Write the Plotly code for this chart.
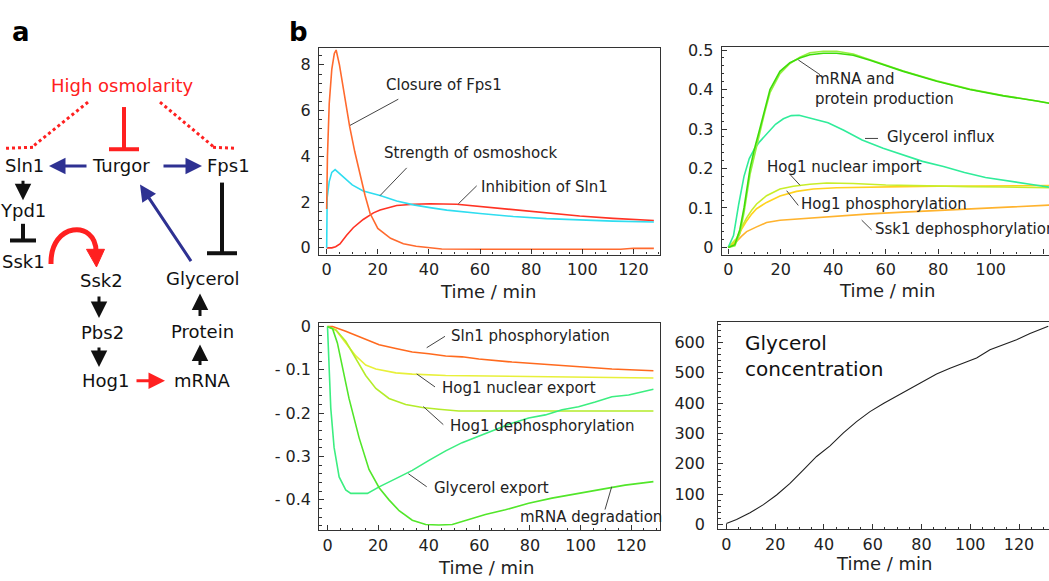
import plotly.graph_objects as go

W, H = 1049, 581
FONT = "DejaVu Sans"

# ---------------- DATA ----------------
# Panel 1 (top-left)
closure_t = [0, 0.3, 1, 2, 3, 3.7, 5, 7, 9, 11, 13, 15, 17, 20, 25, 30, 35, 40, 45, 60, 80, 100, 115, 120, 128]
closure_v = [1.7, 4.0, 6.3, 7.8, 8.5, 8.65, 8.0, 6.6, 5.3, 4.2, 3.2, 2.3, 1.5, 0.85, 0.42, 0.18, 0.07, 0.0, -0.05, -0.06, -0.06, -0.06, -0.06, -0.02, -0.02]
osmo_t = [0, 0.2, 1, 2, 3.3, 5, 7.8, 10, 14.3, 20.9, 27.4, 34, 40.4, 47, 60, 73, 86, 99, 112, 128]
osmo_v = [0, 2.2, 2.9, 3.3, 3.42, 3.25, 2.95, 2.75, 2.49, 2.29, 2.05, 1.88, 1.76, 1.65, 1.5, 1.37, 1.28, 1.21, 1.17, 1.13]
inhib_t = [0, 2, 3.5, 5.2, 7.8, 10.4, 14.3, 18.3, 20.9, 27.4, 34, 40.4, 50.9, 60, 73, 86, 99, 112, 125, 128]
inhib_v = [0, 0, 0.05, 0.17, 0.55, 0.88, 1.24, 1.53, 1.66, 1.85, 1.91, 1.93, 1.91, 1.81, 1.67, 1.53, 1.39, 1.29, 1.21, 1.2]

# Panel 2 (top-right)
mrna_prod_t = [0, 2.5, 4.4, 6, 8.3, 10, 12, 14, 15.9, 19.7, 23.5, 27.3, 31.1, 36.2, 41.3, 47.6, 54, 66.7, 79.4, 92, 104.8, 117.5, 125]
mrna_prod_v = [0, 0.007, 0.045, 0.1, 0.2, 0.25, 0.3, 0.355, 0.4, 0.446, 0.468, 0.48, 0.488, 0.492, 0.492, 0.487, 0.474, 0.446, 0.421, 0.4, 0.384, 0.371, 0.362]
prot_prod_t = [0, 2.5, 4.4, 6, 8.3, 10, 12, 14, 15.9, 19.7, 23.5, 27.3, 31.1, 36.2, 41.3, 47.6, 54, 66.7, 79.4, 92, 104.8, 117.5, 125]
prot_prod_v = [0, 0.004, 0.035, 0.088, 0.185, 0.237, 0.29, 0.345, 0.392, 0.44, 0.466, 0.482, 0.493, 0.497, 0.497, 0.49, 0.476, 0.447, 0.422, 0.401, 0.385, 0.372, 0.363]
influx_t = [0, 2, 4, 6, 8, 10, 12, 15, 18, 21, 24, 27, 32, 38, 44, 51, 59, 67, 74, 82, 90, 98, 107, 115, 125]
influx_v = [0, 0.03, 0.11, 0.18, 0.225, 0.25, 0.268, 0.29, 0.312, 0.326, 0.334, 0.335, 0.327, 0.316, 0.297, 0.272, 0.251, 0.234, 0.218, 0.205, 0.19, 0.177, 0.167, 0.16, 0.15]
import_t = [0, 3.2, 5, 7, 9, 10.8, 14.6, 19.7, 24.8, 31.1, 37.5, 47.6, 60, 73, 92, 105, 125]
import_v = [0, 0.023, 0.05, 0.075, 0.095, 0.11, 0.131, 0.148, 0.155, 0.16, 0.163, 0.162, 0.158, 0.156, 0.154, 0.153, 0.151]
phos_t = [0, 3.2, 5, 7, 9, 10.8, 14.6, 19.7, 26, 32.4, 41.3, 54, 67, 80, 92, 105, 125]
phos_v = [0, 0.019, 0.045, 0.067, 0.085, 0.098, 0.114, 0.13, 0.142, 0.148, 0.151, 0.153, 0.154, 0.155, 0.155, 0.156, 0.157]
ssk1_t = [0, 3.2, 5, 7, 10.8, 14.6, 19.7, 28.6, 41.3, 54, 66.7, 79.4, 92, 104.8, 125]
ssk1_v = [0, 0.015, 0.028, 0.04, 0.052, 0.063, 0.069, 0.073, 0.08, 0.085, 0.0895, 0.094, 0.098, 0.102, 0.108]

# Panel 3 (bottom-left)
sln1_t = [0, 2, 7.2, 13.8, 20.4, 27, 33.5, 40.1, 46.7, 53.2, 59.8, 72.9, 86.1, 99.2, 112.4, 128.8]
sln1_v = [0, 0, -0.011, -0.026, -0.042, -0.051, -0.059, -0.063, -0.068, -0.07, -0.075, -0.082, -0.087, -0.092, -0.098, -0.102]
export_t = [0, 3.3, 7.2, 11.2, 15.1, 19.1, 27, 33.5, 46.7, 59.8, 72.9, 86.1, 128.8]
export_v = [0, -0.008, -0.038, -0.068, -0.089, -0.098, -0.107, -0.110, -0.113, -0.114, -0.115, -0.117, -0.119]
dephos_t = [0, 3.3, 7.2, 11.2, 15.1, 19.1, 24.3, 30.9, 37.5, 44, 51.9, 60, 128.8]
dephos_v = [0, -0.008, -0.034, -0.075, -0.113, -0.143, -0.166, -0.18, -0.187, -0.191, -0.195, -0.195, -0.195]
gexport_t = [0, 0.7, 1.3, 2.6, 4.6, 7.2, 9.2, 15.8, 20.4, 27, 33.5, 40.1, 46.7, 53.2, 59.8, 66.4, 72.9, 79.5, 86.1, 92.7, 99.2, 105.8, 112.4, 119, 128.8]
gexport_v = [0, -0.113, -0.189, -0.279, -0.347, -0.377, -0.385, -0.385, -0.37, -0.351, -0.332, -0.309, -0.287, -0.268, -0.253, -0.238, -0.223, -0.211, -0.204, -0.192, -0.185, -0.174, -0.162, -0.158, -0.145]
mdeg_t = [0, 2, 3.9, 5.9, 8.5, 12.5, 16.4, 20.4, 24.3, 28.3, 33.5, 38.8, 44, 49.3, 55.9, 62.4, 70.3, 79.5, 88.7, 99.2, 109.8, 117.6, 128.8]
mdeg_v = [0, -0.005, -0.038, -0.091, -0.166, -0.257, -0.33, -0.372, -0.4, -0.425, -0.447, -0.457, -0.458, -0.457, -0.445, -0.434, -0.423, -0.408, -0.396, -0.385, -0.374, -0.366, -0.358]

# Panel 4 (bottom-right)
gconc_t = [0, 4.2, 9.7, 15.2, 20.6, 26.1, 31.6, 37, 42.5, 48, 53.4, 58.9, 64.4, 69.8, 75.3, 80.8, 86.2, 91.7, 97.2, 102.6, 108.1, 113.6, 119, 124.5, 132]
gconc_v = [3, 16, 38, 65, 97, 135, 180, 224, 259, 302, 339, 372, 399, 423, 447, 474, 496, 515, 531, 549, 576, 592, 609, 630, 654]

time_ticks = [0, 20, 40, 60, 80, 100, 120]
p1_yticks = [0, 2, 4, 6, 8]
p2_yticks = [0, 0.1, 0.2, 0.3, 0.4, 0.5]
p3_yticks = [0, -0.1, -0.2, -0.3, -0.4]
p3_ylabels = ["0", "- 0.1", "- 0.2", "- 0.3", "- 0.4"]
p4_yticks = [0, 100, 200, 300, 400, 500, 600]

# ---------------- helpers ----------------
def PX(x):
    return x / W

def PY(y):
    return 1 - y / H

fig = go.Figure()

def add_line(t, v, color, axis, width=1.6):
    fig.add_trace(go.Scatter(x=t, y=v, mode="lines", line=dict(color=color, width=width),
                             xaxis="x" + axis, yaxis="y" + axis, showlegend=False, hoverinfo="skip"))

# Panel 1
add_line(inhib_t, inhib_v, "#FF3324", "")
add_line(osmo_t, osmo_v, "#2FDDF0", "")
add_line(closure_t, closure_v, "#FF6A2E", "")
# Panel 2
add_line(ssk1_t, ssk1_v, "#FFB32E", "2")
add_line(phos_t, phos_v, "#FFD21E", "2")
add_line(import_t, import_v, "#C8EE2A", "2")
add_line(influx_t, influx_v, "#30EC9A", "2")
add_line(prot_prod_t, prot_prod_v, "#96F040", "2")
add_line(mrna_prod_t, mrna_prod_v, "#3EDC0A", "2")
# Panel 3
add_line(sln1_t, sln1_v, "#FF6A1E", "3")
add_line(export_t, export_v, "#E8F03A", "3")
add_line(dephos_t, dephos_v, "#B4EC2A", "3")
add_line(gexport_t, gexport_v, "#3CEE80", "3")
add_line(mdeg_t, mdeg_v, "#52E62A", "3")
# Panel 4
add_line(gconc_t, gconc_v, "#202020", "4", width=1.1)

AX = "#333333"

def xax(dom_px, rng, anchor):
    return dict(domain=[dom_px[0] / W, min(1.0, dom_px[1] / W)], range=rng, anchor=anchor,
                showline=True, linecolor=AX, linewidth=1.3, mirror=True,
                ticks="inside", ticklen=5, tickwidth=1, tickcolor=AX,
                tickvals=time_ticks, showgrid=False, zeroline=False,
                minor=dict(ticks="inside", ticklen=2.5, tickcolor=AX, dtick=5, showgrid=False),
                tickfont=dict(family=FONT, size=16, color="#222"))

def yax(dom_px, rng, anchor, vals, text=None, minor=None, mirror=True, standoff=4):
    d = dict(domain=[1 - dom_px[1] / H, 1 - dom_px[0] / H], range=rng, anchor=anchor,
             showline=True, linecolor=AX, linewidth=1.3, mirror=mirror,
             ticks="inside", ticklen=5, tickwidth=1, tickcolor=AX,
             tickvals=vals, showgrid=False, zeroline=False,
             minor=dict(ticks="inside", ticklen=2.5, tickcolor=AX, dtick=minor, showgrid=False),
             tickfont=dict(family=FONT, size=16, color="#222"), ticklabelstandoff=standoff)
    if text is not None:
        d["ticktext"] = text
    return d

fig.update_layout(
    width=W, height=H, margin=dict(l=0, r=0, t=0, b=0),
    paper_bgcolor="white", plot_bgcolor="white",
    font=dict(family=FONT, color="#222"),
    xaxis=xax([319, 660], [-3.0, 130.4], "y"),
    yaxis=yax([43, 253.3], [-0.29, 8.73], "x", p1_yticks, minor=0.4),
    xaxis2=xax([721.7, 1049], [-2.5, 122.2], "y2"),
    yaxis2=yax([41.7, 253.3], [-0.018, 0.508], "x2", p2_yticks, minor=0.02, mirror=False),
    xaxis3=xax([319.3, 660], [-3.24, 131.4], "y3"),
    yaxis3=yax([322.7, 534.3], [-0.47, 0.009], "x3", p3_yticks, p3_ylabels, minor=0.02),
    xaxis4=xax([718.3, 1049], [-3.3, 132.3], "y4"),
    yaxis4=yax([321.7, 533.3], [-16, 669], "x4", p4_yticks, minor=20, mirror=False, standoff=9),
)

annotations = []
shapes = []

def text(s, x, y, size=15, color="#222", xanchor="left", bold=False):
    annotations.append(dict(text=("<b>%s</b>" % s) if bold else s, x=PX(x), y=PY(y), xref="paper", yref="paper",
                            xanchor=xanchor, yanchor="middle", showarrow=False, align="left",
                            font=dict(family=FONT, size=size, color=color)))

def seg(x0, y0, x1, y1, color="#444", width=1, dash=None):
    ln = dict(color=color, width=width)
    if dash:
        ln["dash"] = dash
    shapes.append(dict(type="line", xref="paper", yref="paper", x0=PX(x0), y0=PY(y0), x1=PX(x1), y1=PY(y1), line=ln))

def arrow(tail, tip, color, width=3):
    annotations.append(dict(text="", x=PX(tip[0]), y=PY(tip[1]), xref="paper", yref="paper",
                            ax=tail[0] - tip[0], ay=tail[1] - tip[1], axref="pixel", ayref="pixel",
                            showarrow=True, arrowhead=2, arrowsize=1.1, arrowwidth=width, arrowcolor=color,
                            standoff=0, startstandoff=0))

# Axis titles
text("Time / min", 488, 291, size=18, xanchor="center")
text("Time / min", 887, 290, size=18, xanchor="center")
text("Time / min", 486, 572, size=18, xanchor="center")
text("Time / min", 884, 568, size=18, xanchor="center")

# Panel labels
text("a", 21, 26, size=26, color="black", xanchor="center", bold=True)
text("b", 298, 26, size=26, color="black", xanchor="center", bold=True)

# Panel 1 labels
text("Closure of Fps1", 384, 81)
text("Strength of osmoshock", 382, 150)
text("Inhibition of Sln1", 479, 184)
seg(398.3, 95, 350, 121.7)
seg(406.7, 165, 380, 193.3)
seg(476.7, 183.3, 458.3, 201.7)

# Panel 2 labels
text("mRNA and<br>protein production", 813, 85)
text("Glycerol influx", 885, 134)
text("Hog1 nuclear import", 765, 164)
text("Hog1 phosphorylation", 799, 202)
text("Ssk1 dephosphorylation", 873, 227)
seg(798.3, 55, 820, 70)
seg(865, 135, 878, 135)
seg(790, 171.7, 800, 182.7)
seg(786.7, 188.3, 798.3, 203.3)
seg(861.7, 218.3, 871.7, 228.3)

# Panel 3 labels
text("Sln1 phosphorylation", 449, 336)
text("Hog1 nuclear export", 440, 389)
text("Hog1 dephosphorylation", 448, 428)
text("Glycerol export", 432, 491)
text("mRNA degradation", 518, 521)
seg(426.7, 348.3, 445, 336.7)
seg(416.7, 375, 435, 388.3)
seg(423.3, 408.3, 443.3, 426.7)
seg(408.3, 476.7, 426.7, 490)
seg(611.7, 490, 605, 513.3)

# Panel 4 label
text("Glycerol<br>concentration", 743, 357, size=20, color="#111")

# ---------------- Panel a diagram ----------------
RED = "#FF2020"
BLUE = "#2E3192"
BLK = "#111111"
nodes = [("High osmolarity", 122, 81, RED), ("Sln1", 24, 163, BLK), ("Turgor", 121, 163, BLK),
         ("Fps1", 228, 163, BLK), ("Ypd1", 23, 208, BLK), ("Ssk1", 23, 260, BLK),
         ("Ssk2", 101, 280, BLK), ("Pbs2", 102, 333, BLK), ("Hog1", 105, 382, BLK),
         ("mRNA", 202, 382, BLK), ("Protein", 202, 332, BLK), ("Glycerol", 203, 278, BLK)]
for s, x, y, c in nodes:
    text(s, x, y, size=18, color=c, xanchor="center")

arrow((88, 163), (49, 163), BLUE)
arrow((162, 163), (202, 163), BLUE)
arrow((192, 260), (140, 182), BLUE)
arrow((23, 177), (23, 198), BLK)
arrow((99, 295), (99, 318), BLK)
arrow((99, 347), (99, 368), BLK)
arrow((135, 382), (165, 382), RED)
arrow((200, 367), (200, 345), BLK)
arrow((200, 317), (200, 293), BLK)

# inhibition T-bars
seg(124, 103, 124, 146, RED, 4)
seg(109, 146, 139, 146, RED, 4)
seg(23, 222, 23, 239, BLK, 4)
seg(10, 239, 36, 239, BLK, 4)
seg(222, 180, 222, 252, BLK, 4)
seg(207, 252, 237, 252, BLK, 4)

# dotted lines
seg(88, 98, 33, 143, RED, 3, "dot")
seg(33, 144, 6, 145, RED, 3, "dot")
seg(160, 98, 213, 143, RED, 3, "dot")
seg(213, 144, 236, 145, RED, 3, "dot")

# curved red arrow Ssk1 -> Ssk2
def P(x, y):
    return "%.5f,%.5f" % (PX(x), PY(y))

shapes.append(dict(type="path", xref="paper", yref="paper",
                   path="M %s C %s %s %s" % (P(51, 263), P(50, 220), P(96, 218), P(96, 250)),
                   line=dict(color=RED, width=5)))
shapes.append(dict(type="path", xref="paper", yref="paper",
                   path="M %s L %s L %s Z" % (P(86.5, 248), P(104.5, 248), P(96.5, 266)),
                   fillcolor=RED, line=dict(color=RED, width=1)))

fig.update_layout(annotations=annotations, shapes=shapes)
fig.write_html("out.html", config={"displayModeBar": False},
               post_script="document.body.style.margin='0';document.body.style.overflow='hidden';")
